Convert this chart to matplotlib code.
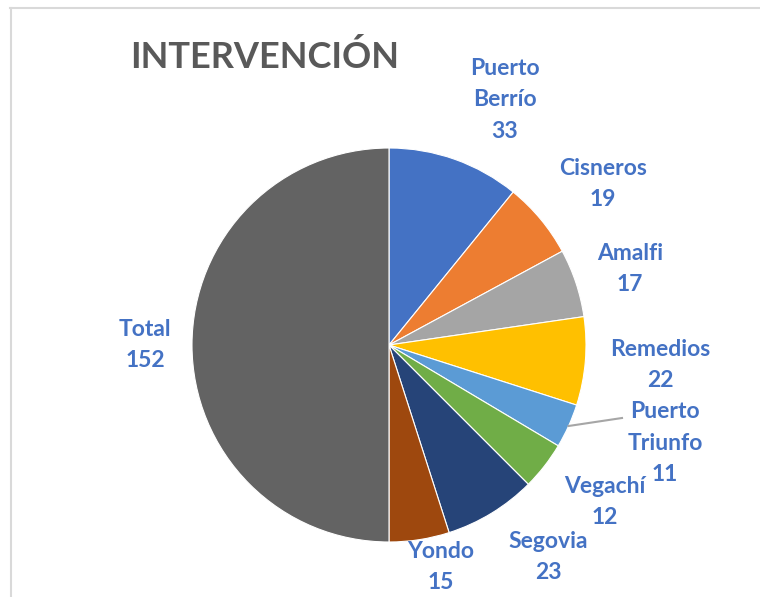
import numpy as np
import matplotlib.pyplot as plt
from matplotlib.lines import Line2D

# Data
labels = ['Puerto\nBerrío', 'Cisneros', 'Amalfi', 'Remedios', 'Puerto\nTriunfo',
          'Vegachí', 'Segovia', 'Yondo', 'Total']
values = [33, 19, 17, 22, 11, 12, 23, 15, 152]
colors = ['#4472C4', '#ED7D31', '#A5A5A5', '#FFC000', '#5B9BD5',
          '#70AD47', '#264478', '#9E480E', '#636363']

# label centres in pixels (from top-left)
label_pos = [(505, 100), (603, 184), (630, 269), (660, 365), (665, 443),
             (605, 502), (548, 557), (441, 567), (145, 345)]

W, H = 760, 597
plt.rcParams['font.family'] = ['Lato', 'DejaVu Sans']

fig = plt.figure(figsize=(W / 100, H / 100), dpi=100)
ax = fig.add_axes([0, 0, 1, 1])

cx, cy, r = 389, H - 345, 197
wedges, _ = ax.pie(values, colors=colors, startangle=90, counterclock=False,
                   center=(cx, cy), radius=r, frame=True,
                   wedgeprops=dict(edgecolor='white', linewidth=0.8))
ax.set_xlim(0, W)
ax.set_ylim(0, H)
ax.set_aspect('equal')
ax.axis('off')

lab_color = '#4472C4'
for lab, v, (px, py) in zip(labels, values, label_pos):
    ax.text(px, H - py, f'{lab}\n{v}', ha='center', va='center',
            color=lab_color, fontsize=16.5, fontweight='bold', linespacing=1.62)

# leader line for Puerto Triunfo
w = wedges[4]
mid = np.deg2rad((w.theta1 + w.theta2) / 2)
x0, y0 = cx + r * np.cos(mid), cy + r * np.sin(mid)
ax.plot([x0, 622], [y0, H - 418], color='#A6A6A6', lw=1.5)

# title
ax.text(265, H - 57, 'INTERVENCIÓN', ha='center', va='center',
        color='#595959', fontsize=26, fontweight='bold')

# chart border (top and left)
fig.add_artist(Line2D([10 / W, 1], [1 - 8 / H, 1 - 8 / H], color='#D9D9D9', lw=1.5))
fig.add_artist(Line2D([11 / W, 11 / W], [0, 1 - 8 / H], color='#D9D9D9', lw=1.5))

fig.savefig('out.png', dpi=100)
